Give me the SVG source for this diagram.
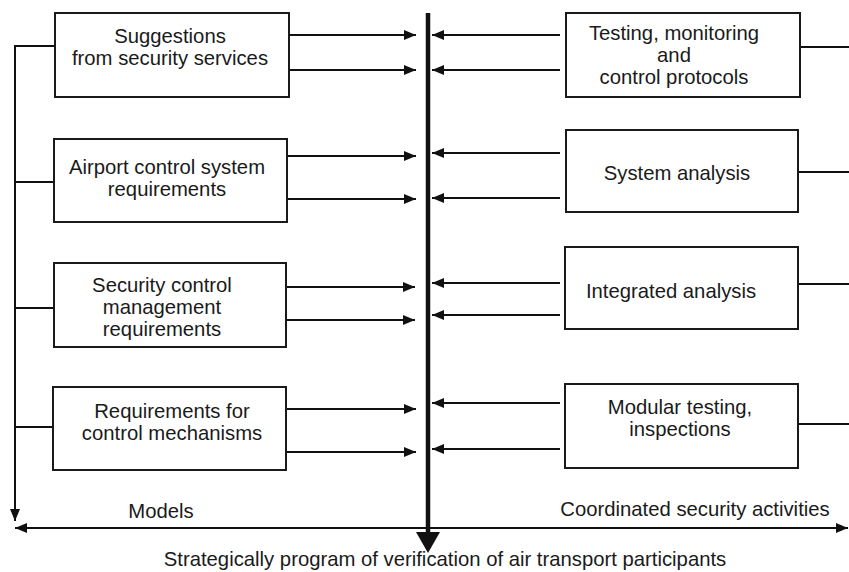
<svg xmlns="http://www.w3.org/2000/svg" width="849" height="572" viewBox="0 0 849 572">
<defs>
<style>
.box{fill:#fff;stroke:#1a1a1a;stroke-width:2}
.ln{fill:none;stroke:#111;stroke-width:2}
.ar{fill:none;stroke:#111;stroke-width:2;marker-end:url(#ah)}
.t{font-family:"Liberation Sans",Arial,sans-serif;font-size:20.3px;fill:#1a1a1a;text-anchor:middle}
</style>
<marker id="ah" markerUnits="userSpaceOnUse" markerWidth="12" markerHeight="10" refX="12" refY="5" orient="auto-start-reverse">
<path d="M0,0 L12,5 L0,10 z" fill="#111"/>
</marker>
</defs>
<rect width="849" height="572" fill="#fff"/>
<g id="connectors">
<line class="ln" x1="428" y1="13" x2="428" y2="533" style="stroke-width:4.5"/>
<polygon points="416,532 440,532 428,553" fill="#111"/>
<polyline class="ar" points="55,46 15,46 15,521"/>
<line class="ln" x1="15" y1="182" x2="54" y2="182"/>
<line class="ln" x1="15" y1="308" x2="54" y2="308"/>
<line class="ln" x1="15" y1="427" x2="54" y2="427"/>
<line class="ar" x1="15" y1="528" x2="848" y2="528" style="marker-start:url(#ah)"/>
<line class="ar" x1="287" y1="35" x2="416" y2="35"/>
<line class="ar" x1="287" y1="70" x2="416" y2="70"/>
<line class="ar" x1="287" y1="156" x2="416" y2="156"/>
<line class="ar" x1="287" y1="199" x2="416" y2="199"/>
<line class="ar" x1="287" y1="287" x2="415" y2="287"/>
<line class="ar" x1="287" y1="320" x2="415" y2="320"/>
<line class="ar" x1="287" y1="409" x2="416" y2="409"/>
<line class="ar" x1="287" y1="452" x2="416" y2="452"/>
<line class="ar" x1="560" y1="35" x2="432" y2="35"/>
<line class="ar" x1="560" y1="70" x2="432" y2="70"/>
<line class="ar" x1="560" y1="153" x2="432" y2="153"/>
<line class="ar" x1="560" y1="198" x2="432" y2="198"/>
<line class="ar" x1="560" y1="283" x2="432" y2="283"/>
<line class="ar" x1="560" y1="315" x2="432" y2="315"/>
<line class="ar" x1="560" y1="403" x2="432" y2="403"/>
<line class="ar" x1="560" y1="449" x2="432" y2="449"/>
<line class="ln" x1="800" y1="47" x2="849" y2="47"/>
<line class="ln" x1="798" y1="172" x2="849" y2="172"/>
<line class="ln" x1="798" y1="284" x2="849" y2="284"/>
<line class="ln" x1="798" y1="424" x2="849" y2="424"/>
</g>
<g id="n-suggestions">
<rect class="box" x="55" y="13" width="234" height="84"/>
<text class="t" x="170" y="43">Suggestions</text>
<text class="t" x="170" y="65">from security services</text>
</g>
<g id="n-airport">
<rect class="box" x="54" y="139" width="233" height="83"/>
<text class="t" x="167" y="174">Airport control system</text>
<text class="t" x="167" y="196">requirements</text>
</g>
<g id="n-security">
<rect class="box" x="54" y="263" width="232" height="84"/>
<text class="t" x="162" y="292">Security control</text>
<text class="t" x="162" y="314">management</text>
<text class="t" x="162" y="336">requirements</text>
</g>
<g id="n-requirements">
<rect class="box" x="53" y="387" width="233" height="83"/>
<text class="t" x="172" y="418">Requirements for</text>
<text class="t" x="172" y="440">control mechanisms</text>
</g>
<g id="n-testing">
<rect class="box" x="566" y="13" width="234" height="84"/>
<text class="t" x="674" y="40">Testing, monitoring</text>
<text class="t" x="674" y="62">and</text>
<text class="t" x="674" y="84">control protocols</text>
</g>
<g id="n-system">
<rect class="box" x="566" y="130" width="232" height="82"/>
<text class="t" x="677" y="180">System analysis</text>
</g>
<g id="n-integrated">
<rect class="box" x="565" y="247" width="233" height="82"/>
<text class="t" x="671" y="298">Integrated analysis</text>
</g>
<g id="n-modular">
<rect class="box" x="565" y="384" width="233" height="84"/>
<text class="t" x="680" y="414">Modular testing,</text>
<text class="t" x="680" y="436">inspections</text>
</g>
<g id="labels">
<text class="t" x="161" y="518">Models</text>
<text class="t" x="695" y="516">Coordinated security activities</text>
<text class="t" x="445" y="566">Strategically program of verification of air transport participants</text>
</g>
</svg>
